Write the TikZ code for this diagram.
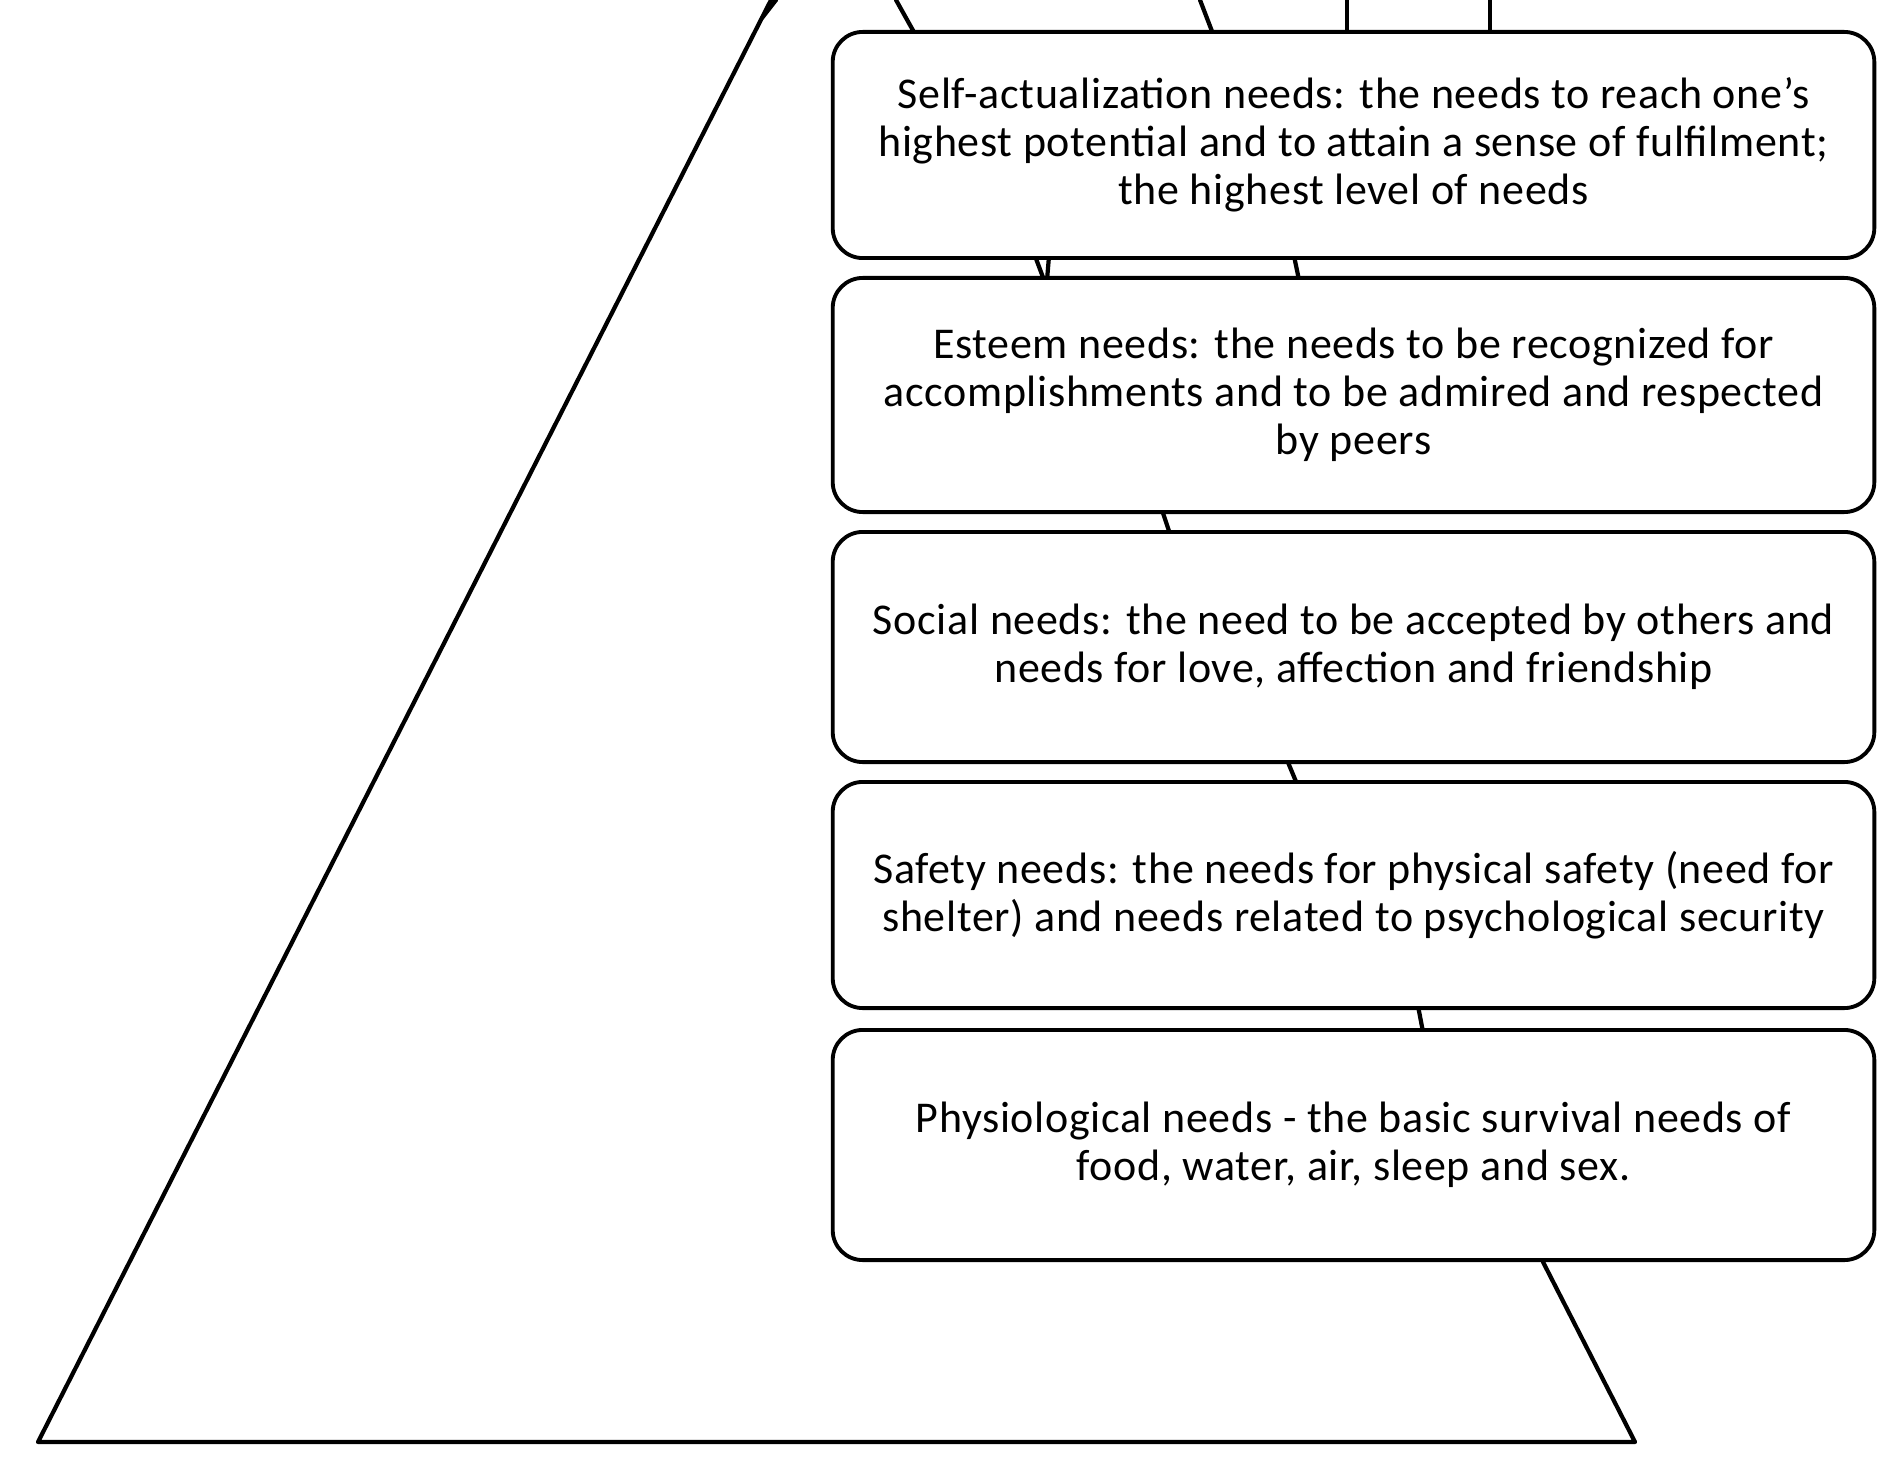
\documentclass[tikz,border=0pt]{standalone}
\usepackage{fontspec}
\setmainfont{Carlito}[LetterSpace=1.5]
\usetikzlibrary{calc}

\begin{document}
\begin{tikzpicture}[x=0.01cm,y=-0.01cm,line join=round,line cap=round,
  needbox/.style={draw,line width=1.1pt,fill=white,rounded corners=0.3cm,align=center,
    minimum width=10.41cm,inner sep=0pt,font=\fontsize{12.5}{13.7}\selectfont},
  edge/.style={line width=1.2pt}]

% ===== 参数 =====
\def\boxL{833}   % 文本框左边
\def\boxR{1874}  % 文本框右边
\pgfmathsetmacro{\boxC}{(\boxL+\boxR)/2}

\useasboundingbox (0,0) rectangle (1883,1473);

% ===== 金字塔轮廓 =====
\draw[edge] (771,0) -- (38,1442) -- (1635,1442) -- (1543,1262);
\draw[edge] (762,18) -- (776,0);

% ===== 层间短线(框与框之间露出的部分) =====
\draw[edge] (896,0) -- (915,34);
\draw[edge] (1200,0) -- (1213,34);
\draw[edge] (1347,0) -- (1347,34);
\draw[edge] (1490,0) -- (1490,34);
\draw[edge] (1035,256) -- (1044,280);
\draw[edge] (1049,256) -- (1047,280);
\draw[edge] (1294,256) -- (1299,280);
\draw[edge] (1162,510) -- (1170,534);
\draw[edge] (1287,760) -- (1297,784);
\draw[edge] (1418,1006) -- (1423,1032);

% ===== 文本框 =====
\node[needbox,minimum height=2.26cm] (selfact) at (\boxC,145)
  {Self-actualization needs: the needs to reach one’s\\
   highest potential and to attain a sense of fulfilment;\\
   the highest level of needs};
\node[needbox,minimum height=2.34cm] (esteem) at (\boxC,395)
  {Esteem needs: the needs to be recognized for\\
   accomplishments and to be admired and respected\\
   by peers};
\node[needbox,minimum height=2.30cm] (social) at (\boxC,647)
  {Social needs: the need to be accepted by others and\\
   needs for love, affection and friendship};
\node[needbox,minimum height=2.26cm] (safety) at (\boxC,895)
  {Safety needs: the needs for physical safety (need for\\
   shelter) and needs related to psychological security};
\node[needbox,minimum height=2.30cm] (physio) at (\boxC,1145)
  {Physiological needs - the basic survival needs of\\
   food, water, air, sleep and sex.};

\end{tikzpicture}
\end{document}
